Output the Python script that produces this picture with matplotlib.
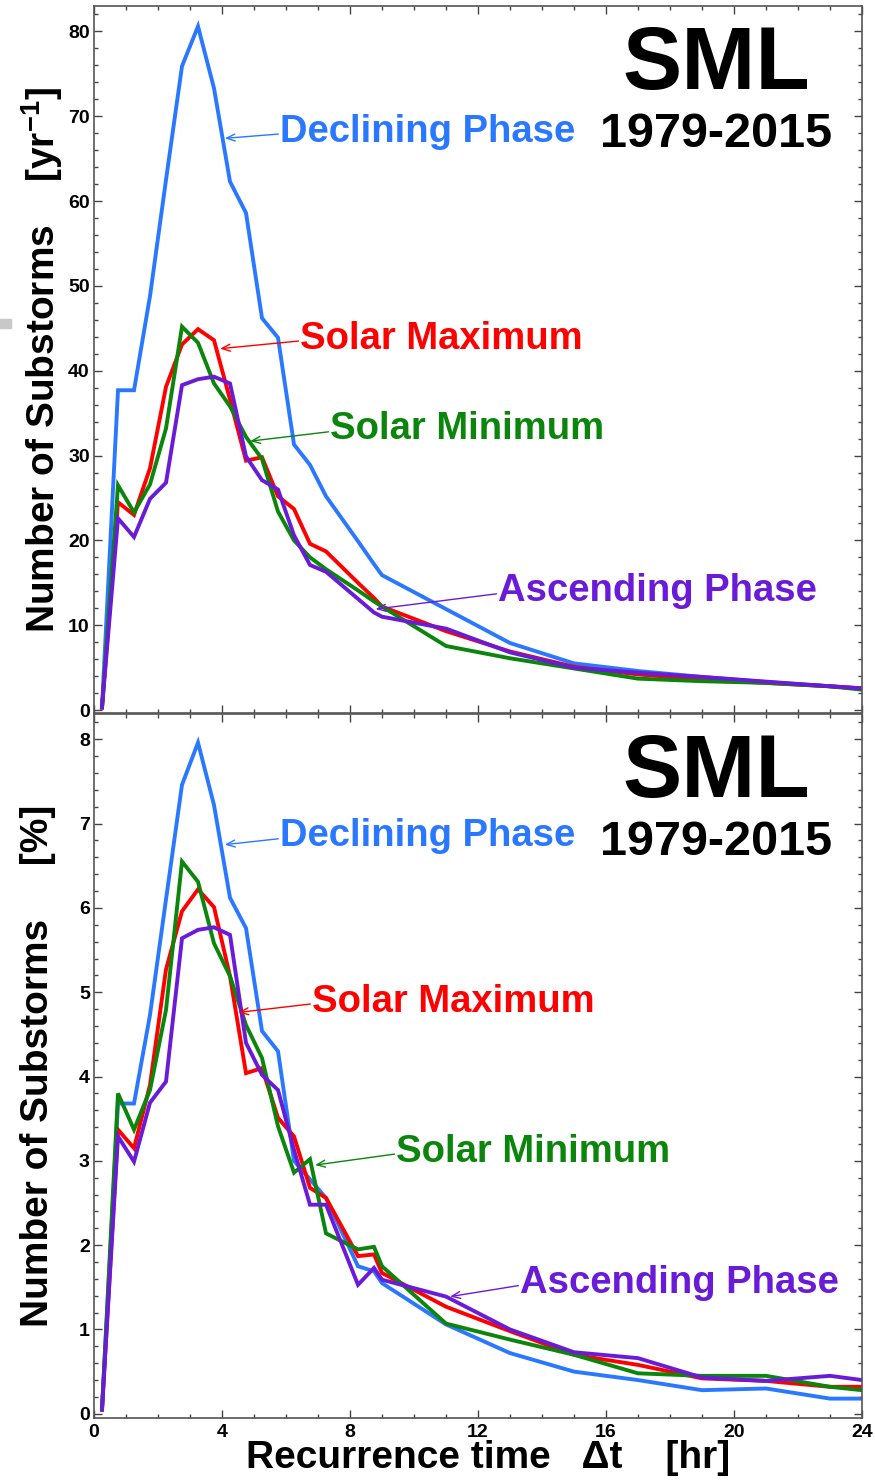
"""SML substorm recurrence-time distributions by solar-cycle phase."""

import matplotlib
matplotlib.use("Agg")
import matplotlib.pyplot as plt
from matplotlib.ticker import MultipleLocator
from matplotlib.patches import Rectangle

plt.rcParams["font.family"] = ["Liberation Sans", "DejaVu Sans"]
plt.rcParams["font.weight"] = "bold"
plt.rcParams["mathtext.fontset"] = "custom"
plt.rcParams["mathtext.bf"] = "Liberation Sans:bold"
plt.rcParams["mathtext.rm"] = "Liberation Sans:bold"
plt.rcParams["mathtext.default"] = "bf"

# recurrence time bin centres [hr]
X_HR = [0.25, 0.75, 1.25, 1.75, 2.25, 2.75, 3.25, 3.75, 4.25, 4.75, 5.25, 5.75,
        6.25, 6.75, 7.25, 8.25, 8.75, 9.0, 11, 13, 15, 17, 19, 21, 23, 24]

# rates [yr^-1]
DECL_RATE = [0.3, 37.7, 37.7, 48.8, 62.5, 75.9, 80.6, 73.3, 62.3, 58.6, 46.2, 43.9,
             31.3, 28.9, 25.2, 19.9, 17.2, 15.9, 11.9, 7.9, 5.5, 4.6, 3.9, 3.3, 2.8, 2.55]
SMAX_RATE = [0.3, 24.5, 23.0, 28.5, 38.1, 43.1, 44.9, 43.6, 36.6, 29.4, 29.8, 25.2,
             23.7, 19.6, 18.7, 15.0, 13.2, 12.2, 9.3, 6.9, 5.1, 4.2, 3.6, 3.2, 2.8, 2.55]
SMIN_RATE = [0.3, 26.5, 23.3, 26.6, 33.2, 45.2, 43.3, 38.5, 35.8, 32.2, 29.6, 23.4,
             20.0, 18.0, 16.6, 14.1, 12.8, 12.2, 7.55, 6.1, 4.9, 3.7, 3.4, 3.2, 2.8, 2.4]
ASC_RATE = [0.3, 22.6, 20.4, 24.9, 26.8, 38.3, 39.0, 39.3, 38.5, 29.9, 27.1, 26.0,
            20.6, 17.1, 16.3, 13.1, 11.5, 11.0, 9.6, 6.8, 5.0, 4.4, 3.9, 3.35, 2.8, 2.55]

# percentages [%]
DECL_PCT = [0.05, 3.68, 3.68, 4.73, 6.1, 7.46, 7.96, 7.22, 6.12, 5.76, 4.54, 4.30,
            3.0, 2.78, 2.56, 1.75, 1.69, 1.55, 1.06, 0.72, 0.50, 0.40, 0.28, 0.30, 0.18, 0.18]
SMAX_PCT = [0.05, 3.37, 3.15, 3.9, 5.27, 5.96, 6.22, 6.01, 5.19, 4.04, 4.10, 3.51,
            3.29, 2.68, 2.56, 1.87, 1.89, 1.67, 1.27, 0.98, 0.70, 0.58, 0.42, 0.39, 0.32, 0.32]
SMIN_PCT = [0.05, 3.80, 3.37, 3.84, 4.79, 6.55, 6.31, 5.58, 5.19, 4.61, 4.22, 3.41,
            2.86, 3.02, 2.14, 1.95, 1.98, 1.75, 1.07, 0.88, 0.70, 0.48, 0.45, 0.45, 0.32, 0.28]
ASC_PCT = [0.05, 3.29, 2.99, 3.69, 3.94, 5.64, 5.74, 5.77, 5.68, 4.40, 4.02, 3.84,
           3.13, 2.48, 2.48, 1.53, 1.73, 1.59, 1.39, 1.0, 0.73, 0.66, 0.43, 0.39, 0.45, 0.40]

PHASES = ["Declining Phase", "Solar Maximum", "Solar Minimum", "Ascending Phase"]
COLORS = ["#2a78ff", "#ff0000", "#0b850b", "#6a1bd8"]

# label text pos (left, centre) and arrow tip, in data coords
TOP_LABELS = [((5.81, 68.2), (4.09, 67.4)),
              ((6.44, 43.8), (3.94, 42.6)),
              ((7.38, 33.1), (4.88, 31.7)),
              ((12.63, 14.0), (8.80, 11.9))]
BOT_LABELS = [((5.81, 6.85), (4.09, 6.75)),
              ((6.81, 4.89), (4.51, 4.76)),
              ((9.44, 3.11), (6.91, 2.95)),
              ((13.31, 1.55), (11.13, 1.39))]

W, H = 875, 1482


def style_axes(ax, ymax, ymin, ymajor, yminor, show_x):
    ax.set_xlim(0, 24)
    ax.set_ylim(ymin, ymax)
    ax.xaxis.set_major_locator(MultipleLocator(4))
    ax.xaxis.set_minor_locator(MultipleLocator(1))
    ax.yaxis.set_major_locator(MultipleLocator(ymajor))
    ax.yaxis.set_minor_locator(MultipleLocator(yminor))
    ax.tick_params(which="both", direction="in", top=True, right=True,
                   color="#444444", width=1.0, labelsize=14)
    ax.tick_params(which="major", length=6)
    ax.tick_params(which="minor", length=3)
    ax.tick_params(axis="x", labelbottom=show_x, pad=4)
    ax.tick_params(axis="y", pad=3)
    for s in ax.spines.values():
        s.set_color("#555555")
        s.set_linewidth(1.2)


def draw_panel(ax, series, labels):
    for ys, c in zip(series, COLORS):
        ax.plot(X_HR, ys, color=c, lw=2.8, solid_joinstyle="miter")
    for name, c, (txt, tip) in zip(PHASES, COLORS, labels):
        ax.annotate("", xy=tip, xytext=(txt[0] - 0.05, txt[1] - 0.3 * (ax.get_ylim()[1] / 83)),
                    arrowprops=dict(arrowstyle="->,head_length=0.6,head_width=0.25",
                                    color=c, lw=1.0, shrinkA=0, shrinkB=0))
        ax.text(txt[0], txt[1], name, color=c, fontsize=27.5, fontweight="bold",
                ha="left", va="center")
    ax.text(0.81, 0.915, "SML", transform=ax.transAxes, fontsize=64,
            fontweight="bold", ha="center", va="center")
    ax.text(0.81, 0.818, "1979-2015", transform=ax.transAxes, fontsize=35,
            fontweight="bold", ha="center", va="center")


def main():
    fig = plt.figure(figsize=(W / 100, H / 100), dpi=100)

    left, width = 94 / W, 768 / W
    ax1 = fig.add_axes([left, 1 - 713 / H, width, 707 / H])
    ax2 = fig.add_axes([left, 1 - 1418 / H, width, 704 / H])

    style_axes(ax1, 83.0, -0.35, 10, 2, False)
    style_axes(ax2, 8.3, -0.05, 1, 0.2, True)

    draw_panel(ax1, [DECL_RATE, SMAX_RATE, SMIN_RATE, ASC_RATE], TOP_LABELS)
    draw_panel(ax2, [DECL_PCT, SMAX_PCT, SMIN_PCT, ASC_PCT], BOT_LABELS)

    ax1.set_ylabel("Number of Substorms    [yr$^{-1}$]", fontsize=28, fontweight="bold")
    ax1.yaxis.set_label_coords((42 - 94) / 768, 0.5)
    ax1.yaxis.label.set_va("center")
    ax2.set_ylabel("Number of Substorms     [%]", fontsize=28, fontweight="bold")
    ax2.yaxis.set_label_coords((38 - 94) / 768, 0.5)
    ax2.yaxis.label.set_va("center")
    ax2.set_xlabel("Recurrence time   \u0394t    [hr]", fontsize=28, fontweight="bold")
    ax2.xaxis.set_label_coords((488 - 94) / 768, -40 / 704)
    ax2.xaxis.label.set_va("center")

    # small grey mark at the left edge of the scan
    fig.patches.append(Rectangle((0, 1 - 328 / H), 11 / W, 9 / H, transform=fig.transFigure,
                                 color="#c8c8c8", zorder=0))

    fig.savefig("out.png", dpi=100)


if __name__ == "__main__":
    main()
